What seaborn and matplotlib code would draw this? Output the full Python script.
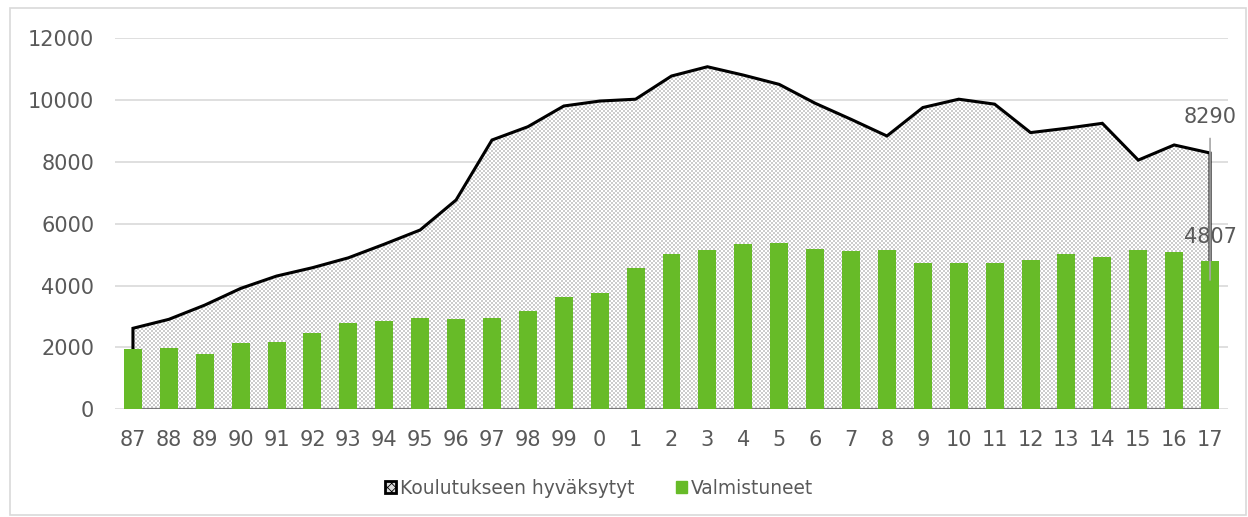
import numpy as np
import pandas as pd
import matplotlib
matplotlib.use("Agg")
import matplotlib.pyplot as plt
import seaborn as sns
from matplotlib.patches import Patch, Rectangle

years = ["87", "88", "89", "90", "91", "92", "93", "94", "95", "96", "97", "98", "99",
         "0", "1", "2", "3", "4", "5", "6", "7", "8", "9", "10", "11", "12", "13", "14",
         "15", "16", "17"]
hyvaksytyt = [2620, 2910, 3370, 3910, 4310, 4580, 4900, 5340, 5800, 6770, 8710, 9140,
              9810, 9970, 10030, 10780, 11080, 10810, 10510, 9900, 9380, 8840, 9760,
              10030, 9870, 8950, 9090, 9250, 8060, 8550, 8290]
valmistuneet = [1940, 1990, 1790, 2130, 2180, 2460, 2800, 2860, 2960, 2910, 2940, 3180,
                3640, 3770, 4580, 5020, 5150, 5340, 5370, 5170, 5120, 5150, 4720, 4740,
                4730, 4830, 5020, 4920, 5150, 5080, 4807]
yticks = [0, 2000, 4000, 6000, 8000, 10000, 12000]

GREEN = "#67BB28"
TXT = "#595959"

sns.set_style("white")
plt.rcParams["font.family"] = ["DejaVu Sans"]
plt.rcParams["hatch.linewidth"] = 0.6

df = pd.DataFrame({"vuosi": years, "hyv": hyvaksytyt, "valm": valmistuneet})
xpos = np.arange(len(years))

W, H = 1248, 517
fig = plt.figure(figsize=(W / 100, H / 100), dpi=100)
ax = fig.add_axes([115 / W, (H - 409.3) / H, 1113 / W, 371 / H])
ax.set_xlim(-0.5, len(years) - 0.5)
ax.set_ylim(0, 12000)

# area fill with a small grey checker texture, clipped to the area polygon
fill = ax.fill_between(xpos, df["hyv"], facecolor="none", linewidth=0, zorder=1)
iy, ix = np.mgrid[0:371, 0:1113]
checker = ((iy // 2 + ix // 2) % 2 == 0)
tex = np.where(checker[..., None], np.array([0.8, 0.8, 0.8]), np.array([1.0, 1.0, 1.0]))
im = ax.imshow(tex, extent=(-0.5, len(years) - 0.5, 0, 12000), aspect="auto",
               interpolation="nearest", zorder=1)
im.set_clip_path(fill.get_paths()[0], ax.transData)

# black outline of the area (top and sides), grey bottom edge
ax.plot([xpos[0], *xpos, xpos[-1]], [0, *hyvaksytyt, 0], color="black",
        linewidth=2.2, zorder=2, solid_joinstyle="miter")
ax.plot([xpos[0], xpos[-1]], [0, 0], color="#7a7a7a", linewidth=1.6, zorder=2)

sns.barplot(data=df, x="vuosi", y="valm", order=years, color=GREEN, saturation=1,
            width=0.5, ax=ax, zorder=3, linewidth=0)

ax.set_xlim(-0.5, len(years) - 0.5)
ax.set_ylim(0, 12000)
ax.set_yticks(yticks)
ax.set_yticklabels([str(v) for v in yticks])
ax.yaxis.grid(True, color="#d9d9d9", linewidth=1.2, zorder=0)
ax.set_axisbelow(True)
for s in ax.spines.values():
    s.set_visible(False)
ax.tick_params(axis="both", length=0, labelsize=15, labelcolor=TXT)
ax.tick_params(axis="y", pad=15)
ax.tick_params(axis="x", pad=15)
ax.set_xlabel("")
ax.set_ylabel("")

# value labels for the last year
last = len(years) - 1
ax.annotate(str(hyvaksytyt[-1]), xy=(last, 4180), xytext=(last, 9460),
            ha="center", va="center", fontsize=15, color=TXT, zorder=5,
            arrowprops=dict(arrowstyle="-", color="#a6a6a6", lw=1.2, shrinkA=6, shrinkB=0))
ax.text(last, 5570, str(valmistuneet[-1]), ha="center", va="center",
        fontsize=15, color=TXT, zorder=5)

handles = [Patch(facecolor="#dddddd", edgecolor="black", hatch="xxxx", linewidth=2),
           Patch(facecolor=GREEN, edgecolor=GREEN)]
leg = fig.legend(handles, ["Koulutukseen hyväksytyt", "Valmistuneet"],
                 loc="center", bbox_to_anchor=(0.48, 0.056), ncol=2, frameon=False,
                 fontsize=13.4, handlelength=0.6, handleheight=0.6, handletextpad=0.2,
                 columnspacing=2.2)
for t in leg.get_texts():
    t.set_color(TXT)

fig.patches.append(Rectangle((10 / W, 2 / H), 1236 / W, 507 / H,
                             transform=fig.transFigure, fill=False,
                             edgecolor="#d9d9d9", linewidth=1.2))

fig.savefig("out.png", dpi=100)
